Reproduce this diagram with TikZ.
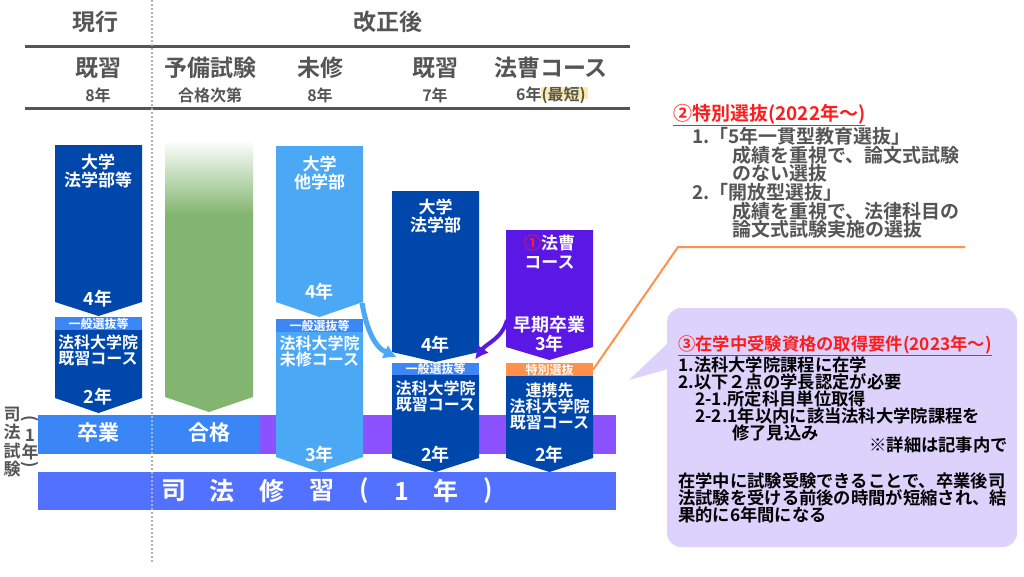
\documentclass[tikz,border=0pt]{standalone}
\usepackage{fontspec}
\setmainfont{Noto Sans CJK JP Bold}
\usepackage{xcolor}
\usepackage{tikz}
\usetikzlibrary{arrows.meta}
\definecolor{navy}{HTML}{0047AB}
\definecolor{skyblue}{HTML}{4BA8F5}
\definecolor{tagblue}{HTML}{3D86F5}
\definecolor{violet}{HTML}{5B17E6}
\definecolor{tagorange}{HTML}{FF914D}
\definecolor{bandblue}{HTML}{3A86F6}
\definecolor{bandpurple}{HTML}{8C52FF}
\definecolor{barblue}{HTML}{5271FF}
\definecolor{grn}{HTML}{82B56F}
\definecolor{lav}{HTML}{DCD2FC}
\definecolor{redtxt}{HTML}{FF1C1C}
\definecolor{textgray}{HTML}{555555}
\definecolor{hl}{HTML}{FFE9A6}
\tikzstyle{arrow} = [-{Latex[length=13pt,width=15pt]}, line width=4.5pt]
\tikzstyle{rule} = [line width=3pt, textgray]
\tikzstyle{divider} = [dotted, line width=2pt, gray!60]
\tikzstyle{head} = [text=textgray, inner sep=0pt, font=\fontsize{23}{24}\selectfont]
\tikzstyle{sub} = [text=textgray, inner sep=0pt, font=\fontsize{16}{16}\selectfont]
\tikzstyle{colt} = [text=white, align=center, inner sep=0pt, font=\fontsize{17}{18.5}\selectfont]
\tikzstyle{course} = [colt, font=\fontsize{16}{16}\selectfont]
\tikzstyle{years} = [colt, font=\fontsize{18}{18}\selectfont]
\tikzstyle{tag} = [text=white, inner sep=0pt, minimum width=87pt, minimum height=13pt, font=\fontsize{12}{12}\selectfont]
\tikzstyle{band} = [text=white, inner sep=0pt, font=\fontsize{21}{21}\selectfont]
\tikzstyle{side} = [text=textgray, inner sep=0pt, font=\fontsize{17}{17}\selectfont]
\tikzstyle{note} = [text=textgray, align=left, inner sep=0pt, font=\fontsize{19}{18.7}\selectfont]
\tikzstyle{callout} = [text=black, align=left, inner sep=0pt, font=\fontsize{17.3}{17}\selectfont]
\newcommand{\chevbox}[6]{\fill[#6] (#1,#3) -- (#2,#3) -- (#2,#4) -- ({(#1+#2)/2},#5) -- (#1,#4) -- cycle;}
\begin{document}
\begin{tikzpicture}[x=1pt, y=-1pt]
		\useasboundingbox (0,0) rectangle (1024,576);

		% header
		\node[head] (now) at (95,22) {現行};
		\node[head] (after) at (388,22) {改正後};
		\draw[rule] (25,46) -- (630,46);
		\draw[rule] (25,108) -- (630,108);
		\fill[hl] (541,87) rectangle (588,99);
		\node[head] (kishuA) at (98,68) {既習};
		\node[sub] (yearA) at (98,95) {8年};
		\node[head] (yobi) at (210,68) {予備試験};
		\node[sub] (yobisub) at (210,95) {合格次第};
		\node[head] (mishu) at (320,68) {未修};
		\node[sub] (yearC) at (320,95) {8年};
		\node[head] (kishuD) at (435,68) {既習};
		\node[sub] (yearD) at (435,95) {7年};
		\node[head] (hoso) at (551,68) {法曹コース};
		\node[sub] (yearE) at (551,95) {6年(最短)};

		% bands
		\fill[bandblue] (38,415) rectangle (260,454);
		\fill[bandpurple] (260,415) rectangle (616,454);
		\fill[barblue] (38,472) rectangle (616,510);
		\node[band] (sotsu) at (98,433) {卒業};
		\node[band] (gokaku) at (209,433) {合格};
		\foreach \ch/\xx in {司/174, 法/222, 修/272, 習/322, {(}/364, 1/402, 年/446, {)}/488}
			\node[band, font=\fontsize{25}{25}\selectfont] (shu\xx) at (\xx,491) {\ch};

		% left label
		\node[side, align=center, font=\fontsize{17}{18.5}\selectfont] (shiken) at (12,442) {司\\法\\試\\験};
		\node[side] (ichi) at (30,435) {1};
		\node[side] (nen) at (30,452) {年};
		\node[side, rotate=-90] (kakkoT) at (30,419) {(};
		\node[side, rotate=-90] (kakkoB) at (30,465) {)};

		% current: kishu
		\chevbox{55}{142}{145}{302}{316}{navy}
		\node[colt] (univA) at (98,171) {大学\\法学部等};
		\node[years] (fourA) at (98,299) {4年};
		\node[tag, fill=tagblue] (tagA) at (98.5,323.5) {一般選抜等};
		\chevbox{55}{142}{330}{398}{413}{navy}
		\node[course] (lsA) at (98,350) {法科大学院\\既習コース};
		\node[years] (twoA) at (98,397) {2年};

		% yobi shiken
		\shade[top color=white, bottom color=grn] (165,140) rectangle (253,215);
		\chevbox{165}{253}{214}{397}{412}{grn}

		% mishu
		\chevbox{276}{363}{146}{302}{317}{skyblue}
		\node[colt] (univC) at (319.5,173) {大学\\他学部};
		\node[years] (fourC) at (319.5,292) {4年};
		\node[tag, fill=tagblue] (tagC) at (319.5,325.5) {一般選抜等};
		\chevbox{276}{363}{332}{457}{472}{skyblue}
		\node[course] (lsC) at (319.5,351) {法科大学院\\未修コース};
		\node[years] (threeC) at (319.5,455) {3年};

		% kishu
		\chevbox{392}{479}{191}{352}{362}{navy}
		\node[colt] (univD) at (435.5,216) {大学\\法学部};
		\node[years] (fourD) at (435.5,345) {4年};
		\node[tag, fill=tagblue] (tagD) at (435.5,369) {一般選抜等};
		\chevbox{392}{479}{375}{458}{472}{navy}
		\node[course] (lsD) at (435.5,396) {法科大学院\\既習コース};
		\node[years] (twoD) at (435.5,455) {2年};

		% hoso course
		\chevbox{506}{593}{230}{347}{360}{violet}
		\node[colt] (univE) at (549.5,252) {\textcolor{redtxt}{①}法曹\\コース};
		\node[colt, font=\fontsize{18}{18.5}\selectfont] (sokiE) at (549.5,334) {早期卒業\\3年};
		\node[tag, fill=tagorange] (tagE) at (549.5,369.5) {特別選抜};
		\chevbox{506}{593}{376}{458}{472}{navy}
		\node[course] (lsE) at (549.5,406) {連携先\\法科大学院\\既習コース};
		\node[years] (twoE) at (549.5,455) {2年};

		% arrows
		\coordinate (fromC) at (362,303);
		\coordinate (fromE) at (507,320);
		\draw[arrow, skyblue, line width=5pt] (fromC) to[out=-80, in=155] ([xshift=5pt, yshift=5pt]tagD.north west);
		\draw[arrow, violet, line width=4pt] (fromE) to[out=-105, in=55] ([xshift=-4pt, yshift=3pt]tagD.north east);

		% special selection note
		\coordinate (bend) at (678,247);
		\coordinate (lineend) at (965,247);
		\draw[tagorange, line width=2pt] (tagE.east) -- (bend) -- (lineend);
		\node[note, anchor=north west] (tokubetsu) at (673,104) {\textcolor{redtxt}{\underline{②特別選抜(2022年～)}}\\
			\hspace*{19pt}1.「5年一貫型教育選抜」\\
			\hspace*{59pt}成績を重視で、論文式試験\\
			\hspace*{59pt}のない選抜\\
			\hspace*{19pt}2.「開放型選抜」\\
			\hspace*{59pt}成績を重視で、法律科目の\\
			\hspace*{59pt}論文式試験実施の選抜};

		% callout
		\fill[lav, rounded corners=14pt] (667,308) rectangle (1017,547);
		\coordinate (tip) at (629,380);
		\fill[lav] (tip) -- (668,343) -- (668,369) -- cycle;
		\node[callout, anchor=north west] (yoken) at (678,335) {\textcolor{redtxt}{\underline{③在学中受験資格の取得要件(2023年～)}}\\
			1.法科大学院課程に在学\\
			2.以下２点の学長認定が必要\\
			\hspace*{17pt}2-1.所定科目単位取得\\
			\hspace*{17pt}2-2.1年以内に該当法科大学院課程を\\
			\hspace*{54pt}修了見込み};
		\node[callout, anchor=east] (shosai) at (1008,445) {※詳細は記事内で};
		\node[callout, anchor=north west] (kekka) at (678,472) {在学中に試験受験できることで、卒業後司\\
			法試験を受ける前後の時間が短縮され、結\\
			果的に6年間になる};

		\draw[divider] (152,0) -- (152,562);
	\end{tikzpicture}
\end{document}
